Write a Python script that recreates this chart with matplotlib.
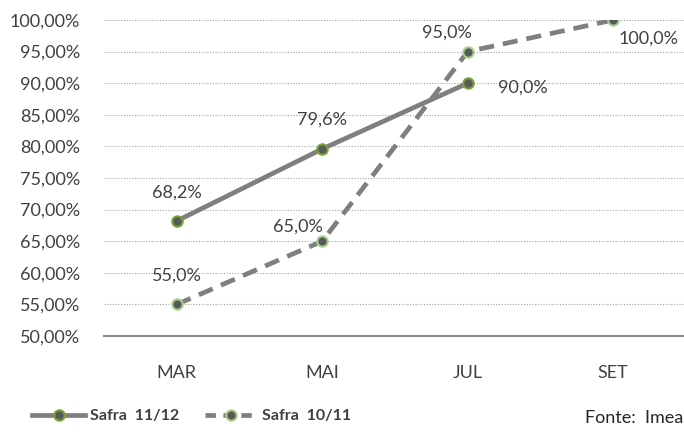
import matplotlib
matplotlib.use("Agg")
import matplotlib.pyplot as plt
from matplotlib.lines import Line2D

plt.rcParams['font.family'] = ['Lato', 'DejaVu Sans']

categories = ["MAR", "MAI", "JUL", "SET"]
safra_1112 = [68.2, 79.6, 90.0]
safra_1011 = [55.0, 65.0, 95.0, 100.0]
labels_1112 = ["68,2%", "79,6%", "90,0%"]
labels_1011 = ["55,0%", "65,0%", "95,0%", "100,0%"]
yticks = [50, 55, 60, 65, 70, 75, 80, 85, 90, 95, 100]

W, H = 684, 432
fig = plt.figure(figsize=(W/100, H/100), dpi=100)
left, right = 104, 686
top, bottom = 20, 336
ax = fig.add_axes([left/W, 1-bottom/H, (right-left)/W, (bottom-top)/H])
ax.set_xlim(-0.5, 3.5)
ax.set_ylim(50, 100)

line_col = "#7f7f7f"
face = "#595959"
edge_dark = "#77a33a"
edge_light = "#a9d18e"
fs = 13

x1 = list(range(len(safra_1112)))
x2 = list(range(len(safra_1011)))
ax.plot(x1, safra_1112, color=line_col, lw=3.4, solid_capstyle='butt', zorder=3,
        marker='o', ms=7.5, mfc=face, mec=edge_dark, mew=1.5)
ax.plot(x2, safra_1011, color=line_col, lw=3.4, ls=(0, (3.2, 1.9)), zorder=3,
        marker='o', ms=7.5, mfc=face, mec=edge_light, mew=1.5)

ax.set_yticks(yticks)
ax.set_yticklabels([f"{v},00%" for v in yticks])
ax.set_xticks(range(len(categories)))
ax.set_xticklabels(categories)
ax.tick_params(axis='both', length=0, labelsize=fs, colors="#404040")
ax.tick_params(axis='y', pad=17)
ax.tick_params(axis='x', pad=21)

ax.grid(axis='y', color="#a6a6a6", ls=(0, (1, 1.5)), lw=0.8)
for s in ['top', 'right', 'left']:
    ax.spines[s].set_visible(False)
ax.spines['bottom'].set_color("#8c8c8c")
ax.spines['bottom'].set_linewidth(1.5)
ax.set_axisbelow(True)

lab_kw = dict(fontsize=fs, color="#404040", ha='center', va='center')
offs_1112 = [(0, 28), (0, 29), (55, -4)]
offs_1011 = [(0, 29), (-24, 15), (-21, 19), (35, -19)]
for xi, v, t, (dx, dy) in zip(x1, safra_1112, labels_1112, offs_1112):
    ax.annotate(t, (xi, v), xytext=(dx*0.72, dy*0.72), textcoords='offset points', **lab_kw)
for xi, v, t, (dx, dy) in zip(x2, safra_1011, labels_1011, offs_1011):
    ax.annotate(t, (xi, v), xytext=(dx*0.72, dy*0.72), textcoords='offset points', **lab_kw)

# legend
h1 = Line2D([], [], color=line_col, lw=3.4, marker='o', ms=7.5, mfc=face, mec=edge_dark, mew=1.5)
h2 = Line2D([], [], color=line_col, lw=3.4, ls=(0, (2.2, 1.6)), marker='o', ms=7.5, mfc=face, mec=edge_light, mew=1.5)
leg = fig.legend([h1, h2], ["Safra  11/12", "Safra  10/11"], loc='center left',
                 bbox_to_anchor=(18/W, 1-416/H), ncol=2, frameon=False,
                 prop={'weight': 'bold', 'size': 11.5}, handlelength=3.3,
                 columnspacing=1.6, handletextpad=0.3, labelcolor="#404040")
fig.text(683/W, 1-418/H, "Fonte:  Imea", ha='right', va='center', fontsize=fs, color="#262626")

fig.savefig("out.png", dpi=100)
